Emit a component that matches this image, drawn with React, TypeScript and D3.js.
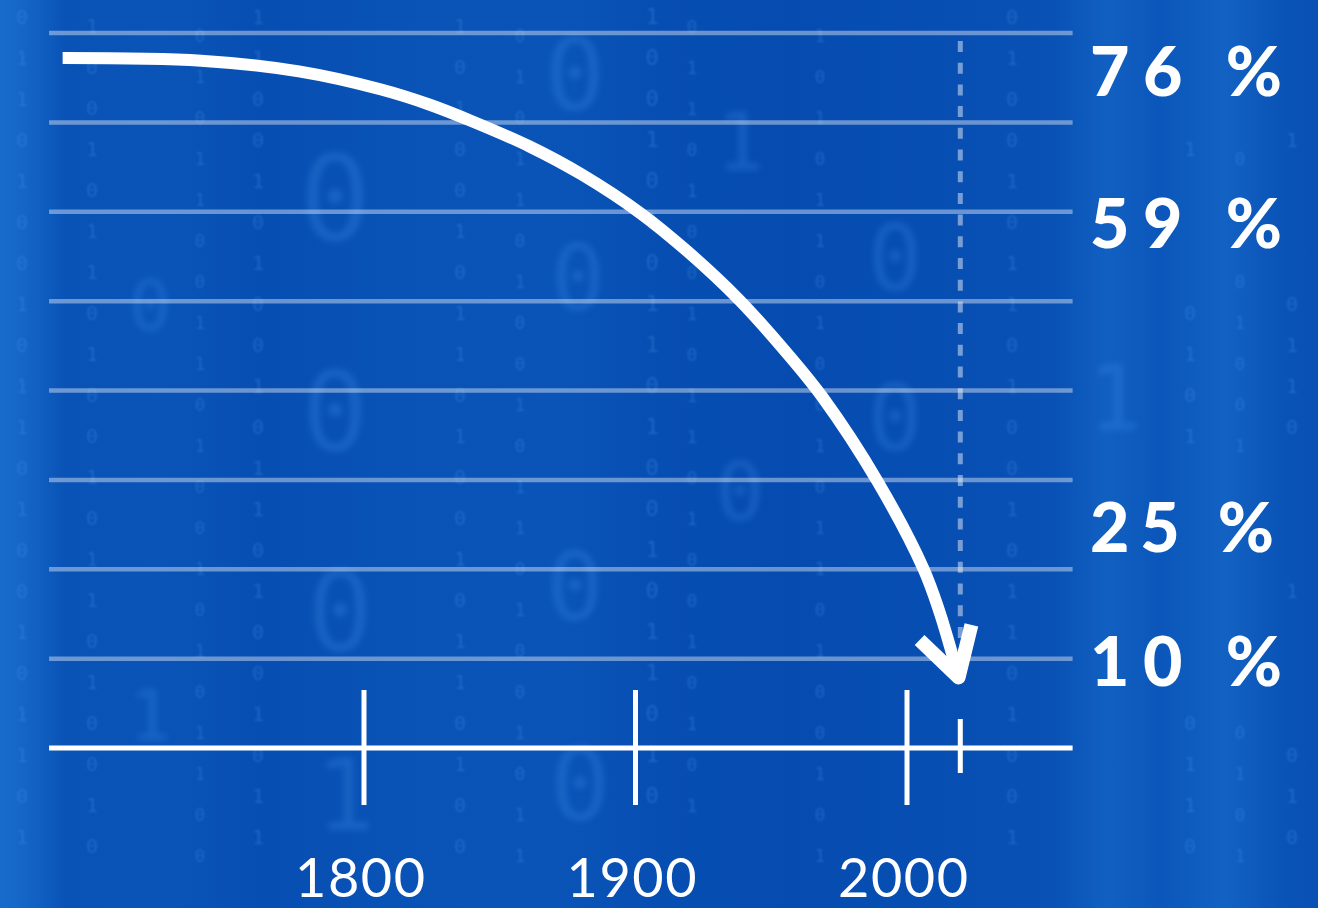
import React from 'react';
import * as d3 from 'd3';

// ---- data ----
const years = [1689, 1740, 1776, 1806, 1824, 1840, 1861, 1880, 1902, 1919, 1938, 1956, 1969, 1989, 2006, 2012, 2019];
const shares = [77.2, 76.9, 75.7, 73.7, 72.0, 70.1, 67.3, 64.2, 59.8, 55.6, 50.2, 44.1, 39.2, 29.9, 20.1, 15.2, 7.9];
const gridValues = [10, 20, 30, 40, 50, 60, 70, 80];
const majorTicks = [1800, 1900, 2000];
const tickLabels = ['1800', '1900', '2000'];
const minorTicks = [2020];
const markerYear = 2020;
const labelValues = [76, 59, 25, 10];
const labelTexts = ['76 %', '59 %', '25 %', '10 %'];
const axisExtent = [1684, 2061];

// decorative background binary digits (texture only)
const bgSmallCols = [
  { x: 22, s: 20, t: '0110100101101001011010' },
  { x: 92, s: 20, t: '1001011010010110100101' },
  { x: 200, s: 18, t: '0101100110100101011001' },
  { x: 258, s: 20, t: '1100101001011010010110' },
  { x: 460, s: 20, t: '1010010110100101101001' },
  { x: 520, s: 18, t: '0101101001011010010110' },
  { x: 652, s: 22, t: '1001010110100101101010' },
  { x: 692, s: 18, t: '0110100101101001010110' },
  { x: 820, s: 18, t: '1010110100101101001011' },
  { x: 1012, s: 20, t: '0100101101001011010010' },
  { x: 1190, s: 20, t: '1011010010110100101101' },
  { x: 1240, s: 18, t: '0010110100101101001010' },
  { x: 1292, s: 20, t: '1101001011010010110100' },
];
const bgBigDigits = [
  { x: 335, y: 240, s: 120, c: '0' },
  { x: 335, y: 450, s: 110, c: '0' },
  { x: 340, y: 650, s: 110, c: '0' },
  { x: 345, y: 830, s: 100, c: '1' },
  { x: 575, y: 110, s: 100, c: '0' },
  { x: 578, y: 310, s: 90, c: '0' },
  { x: 575, y: 620, s: 95, c: '0' },
  { x: 580, y: 820, s: 100, c: '0' },
  { x: 150, y: 330, s: 70, c: '0' },
  { x: 150, y: 740, s: 70, c: '1' },
  { x: 740, y: 170, s: 80, c: '1' },
  { x: 740, y: 520, s: 80, c: '0' },
  { x: 895, y: 290, s: 90, c: '0' },
  { x: 895, y: 450, s: 90, c: '0' },
  { x: 1115, y: 430, s: 90, c: '1' },
];

const W = 1318;
const H = 908;

export default function App() {
  const x = d3.scaleLinear().domain([1800, 2000]).range([364, 907]);
  const y = d3.scaleLinear().domain([0, 80]).range([748, 33]);

  const pts = years.map((yr, i) => [x(yr), y(shares[i])] as [number, number]);
  const line = d3.line().curve(d3.curveCatmullRom.alpha(0.5));
  const curvePath = line(pts) || '';

  // arrowhead from last two points
  const tip = pts[pts.length - 1];
  const prev = pts[pts.length - 2];
  const dx = prev[0] - tip[0];
  const dy = prev[1] - tip[1];
  const len = Math.hypot(dx, dy);
  const ux = dx / len;
  const uy = dy / len;
  const armLen = 54;
  const ang = (30 * Math.PI) / 180;
  const rot = (a: number) => [ux * Math.cos(a) - uy * Math.sin(a), ux * Math.sin(a) + uy * Math.cos(a)];
  const r1 = rot(ang);
  const r2 = rot(-ang);
  const arrowPath = `M${tip[0] + r2[0] * armLen},${tip[1] + r2[1] * armLen}L${tip[0]},${tip[1]}L${tip[0] + r1[0] * armLen},${tip[1] + r1[1] * armLen}`;

  const x0 = x(axisExtent[0]);
  const x1 = x(axisExtent[1]);
  const axisY = y(0);

  // keep decorative digits clear of real labels
  const labelBands = labelValues.map((v) => [y(v) - 52, y(v) + 66]);
  const clearOfLabels = (cx: number, cy: number) => {
    if (cy > 880) return false;
    if (cx > 1075 && labelBands.some(([a, b]) => cy > a && cy < b)) return false;
    if (cy > 828 && majorTicks.some((t) => Math.abs(cx - x(t)) < 82)) return false;
    return true;
  };

  return (
    <svg width={W} height={H} style={{ position: 'fixed', left: 0, top: 0, display: 'block' }}>
      <defs>
        <linearGradient id="bg" x1="0" y1="0" x2="1" y2="0">
          <stop offset="0" stopColor="#1a6ccb" />
          <stop offset="0.025" stopColor="#1262c4" />
          <stop offset="0.05" stopColor="#0952b6" />
          <stop offset="0.12" stopColor="#0a54b8" />
          <stop offset="0.2" stopColor="#074eb2" />
          <stop offset="0.3" stopColor="#0952b6" />
          <stop offset="0.42" stopColor="#0a54b8" />
          <stop offset="0.5" stopColor="#074eb2" />
          <stop offset="0.6" stopColor="#064cb0" />
          <stop offset="0.7" stopColor="#074eb3" />
          <stop offset="0.8" stopColor="#0951b5" />
          <stop offset="0.84" stopColor="#1160c1" />
          <stop offset="0.88" stopColor="#0b56ba" />
          <stop offset="0.93" stopColor="#1262c3" />
          <stop offset="0.97" stopColor="#0a54b7" />
          <stop offset="1" stopColor="#0950b3" />
        </linearGradient>
        <filter id="blurBig" x="-30%" y="-30%" width="160%" height="160%">
          <feGaussianBlur stdDeviation="3" />
        </filter>
        <filter id="blurSmall" x="-30%" y="-5%" width="160%" height="110%">
          <feGaussianBlur stdDeviation="1.2" />
        </filter>
      </defs>
      <rect x={0} y={0} width={W} height={H} fill="url(#bg)" />

      {/* decorative binary background */}
      <g filter="url(#blurSmall)" fill="#4595ea" opacity={0.33} fontFamily="DejaVu Sans Mono" textAnchor="middle">
        {bgSmallCols.map((c, i) => (
          <text key={i} x={c.x} y={20} fontSize={c.s}>
            {c.t.split('').map((ch, j) => {
              const cy = (i % 3) * 9 + 24 + j * 41;
              return clearOfLabels(c.x, cy) ? (
                <tspan key={j} x={c.x} y={cy}>{ch}</tspan>
              ) : null;
            })}
          </text>
        ))}
      </g>
      <g filter="url(#blurBig)" fill="#3a8ce6" opacity={0.3} fontFamily="DejaVu Sans Mono" textAnchor="middle">
        {bgBigDigits.map((d, i) => (
          <text key={i} x={d.x} y={d.y} fontSize={d.s}>{d.c}</text>
        ))}
      </g>

      {/* gridlines */}
      <g stroke="#ffffff" strokeOpacity={0.4} strokeWidth={4.5}>
        {gridValues.map((v) => (
          <line key={v} x1={x0} x2={x1} y1={y(v)} y2={y(v)} />
        ))}
      </g>

      {/* dashed marker line */}
      <line
        x1={x(markerYear) - 1}
        x2={x(markerYear) - 1}
        y1={y(80) + 8}
        y2={tip[1]}
        stroke="#ffffff"
        strokeOpacity={0.45}
        strokeWidth={5}
        strokeDasharray="11 10.7"
      />

      {/* axis */}
      <line x1={x0} x2={x1} y1={axisY} y2={axisY} stroke="#ffffff" strokeWidth={5} />
      {majorTicks.map((t) => (
        <line key={t} x1={x(t)} x2={x(t)} y1={axisY - 58} y2={axisY + 57} stroke="#ffffff" strokeWidth={5} />
      ))}
      {minorTicks.map((t) => (
        <line key={t} x1={x(t) - 1} x2={x(t) - 1} y1={axisY - 29} y2={axisY + 25} stroke="#ffffff" strokeWidth={5} />
      ))}
      {majorTicks.map((t, i) => (
        <text
          key={t}
          x={x(t) - 4}
          y={897}
          fill="#ffffff"
          fontFamily="Lato, 'Open Sans', sans-serif"
          fontSize={54}
          textAnchor="middle"
          textLength={130}
          lengthAdjust="spacing"
        >
          {tickLabels[i]}
        </text>
      ))}

      {/* curve + arrow */}
      <path d={curvePath} fill="none" stroke="#ffffff" strokeWidth={12} />
      <path d={arrowPath} fill="none" stroke="#ffffff" strokeWidth={14} strokeLinejoin="round" />

      {/* value labels */}
      {labelValues.map((v, i) => (
        <text
          key={v}
          x={1090}
          y={y(v) + 27}
          fill="#ffffff"
          fontFamily="Lato, 'Open Sans', sans-serif"
          fontWeight={900}
          fontSize={68}
          textLength={i === 2 ? 184 : 192}
          lengthAdjust="spacing"
        >
          {labelTexts[i]}
        </text>
      ))}
    </svg>
  );
}
